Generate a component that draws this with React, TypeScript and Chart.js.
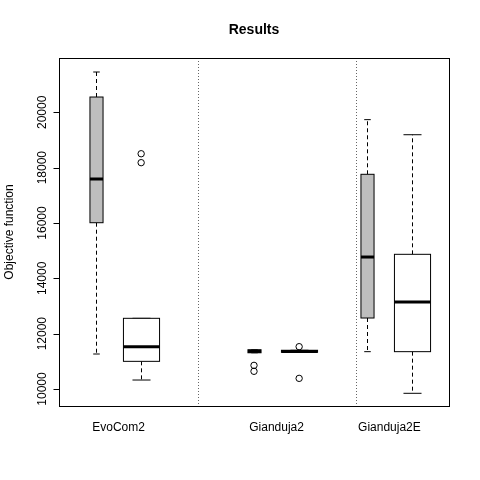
import React, { useEffect, useRef } from "react";
import { Chart, registerables } from "chart.js";

Chart.register(...registerables);

// box statistics, one entry per box
const positions = [1, 2, 4.5, 5.5, 7, 8];
const whiskerLow = [11265, 10325, 11310, 11330, 11350, 9845];
const q1 = [16010, 11000, 11310, 11330, 12566, 11350];
const medians = [17590, 11530, 11360, 11360, 14770, 13145];
const q3 = [20553, 12555, 11420, 11400, 17760, 14868];
const whiskerHigh = [21457, 12555, 11420, 11400, 19735, 19190];
const outliers = [
  { x: 2, y: 18503 },
  { x: 2, y: 18180 },
  { x: 4.5, y: 10855 },
  { x: 4.5, y: 10640 },
  { x: 5.5, y: 11530 },
  { x: 5.5, y: 10385 },
];
const groupLabels = ["EvoCom2", "Gianduja2", "Gianduja2E"];
const groupCenters = [1.5, 5, 7.5];
const dividers = [3.25, 6.75];
const yTicks = [10000, 12000, 14000, 16000, 18000, 20000];

// styles
const boxWidths = [0.29, 0.8, 0.29, 0.8, 0.29, 0.8];
const boxFills = ["#bebebe", "#ffffff", "#bebebe", "#ffffff", "#bebebe", "#ffffff"];
const FONT = '"Liberation Sans", Arial, sans-serif';

const rBoxPlot = {
  id: "rBoxPlot",
  beforeDatasetsDraw(chart: any) {
    const { ctx, chartArea: a, scales } = chart;
    const x = scales.x;
    const y = scales.y;
    ctx.save();
    // dividers
    ctx.strokeStyle = "#666";
    ctx.lineWidth = 1;
    ctx.setLineDash([1, 2]);
    dividers.forEach((d) => {
      const px = Math.round(x.getPixelForValue(d)) + 0.5;
      ctx.beginPath();
      ctx.moveTo(px, a.top);
      ctx.lineTo(px, a.bottom);
      ctx.stroke();
    });
    positions.forEach((p, i) => {
      const cx = Math.round(x.getPixelForValue(p)) + 0.5;
      const hw = x.getPixelForValue(p + boxWidths[i] / 2) - x.getPixelForValue(p);
      const yq1 = y.getPixelForValue(q1[i]);
      const yq3 = y.getPixelForValue(q3[i]);
      const ylo = y.getPixelForValue(whiskerLow[i]);
      const yhi = y.getPixelForValue(whiskerHigh[i]);
      const ym = y.getPixelForValue(medians[i]);
      ctx.strokeStyle = "#000";
      ctx.lineWidth = 1;
      // whiskers
      ctx.setLineDash([4, 3]);
      ctx.beginPath();
      ctx.moveTo(cx, yq3);
      ctx.lineTo(cx, yhi);
      ctx.moveTo(cx, yq1);
      ctx.lineTo(cx, ylo);
      ctx.stroke();
      ctx.setLineDash([]);
      ctx.beginPath();
      ctx.moveTo(cx - hw / 2, yhi);
      ctx.lineTo(cx + hw / 2, yhi);
      ctx.moveTo(cx - hw / 2, ylo);
      ctx.lineTo(cx + hw / 2, ylo);
      ctx.stroke();
      // box
      ctx.fillStyle = boxFills[i];
      ctx.fillRect(cx - hw, yq3, hw * 2, yq1 - yq3);
      ctx.strokeRect(cx - hw, yq3, hw * 2, yq1 - yq3);
      // median
      ctx.lineWidth = 3;
      ctx.beginPath();
      ctx.moveTo(cx - hw, ym);
      ctx.lineTo(cx + hw, ym);
      ctx.stroke();
    });
    ctx.restore();
  },
  afterDraw(chart: any) {
    const { ctx, chartArea: a, scales } = chart;
    const x = scales.x;
    const y = scales.y;
    ctx.save();
    ctx.strokeStyle = "#000";
    ctx.lineWidth = 1;
    ctx.setLineDash([]);
    ctx.strokeRect(Math.round(a.left) + 0.5, Math.round(a.top) + 0.5, Math.round(a.right - a.left), Math.round(a.bottom - a.top));
    // y axis ticks
    const ax = Math.round(a.left) + 0.5;
    ctx.beginPath();
    ctx.moveTo(ax, y.getPixelForValue(yTicks[0]));
    ctx.lineTo(ax, y.getPixelForValue(yTicks[yTicks.length - 1]));
    yTicks.forEach((t) => {
      const py = Math.round(y.getPixelForValue(t)) + 0.5;
      ctx.moveTo(ax, py);
      ctx.lineTo(ax - 6, py);
    });
    ctx.stroke();
    ctx.fillStyle = "#000";
    ctx.font = `12px ${FONT}`;
    ctx.textAlign = "center";
    ctx.textBaseline = "bottom";
    yTicks.forEach((t) => {
      const py = y.getPixelForValue(t);
      ctx.save();
      ctx.translate(ax - 11, py);
      ctx.rotate(-Math.PI / 2);
      ctx.fillText(String(t), 0, 0);
      ctx.restore();
    });
    // group labels
    ctx.textBaseline = "middle";
    groupLabels.forEach((l, i) => {
      ctx.fillText(l, x.getPixelForValue(groupCenters[i]), 428);
    });
    // axis title
    ctx.save();
    ctx.translate(10, (a.top + a.bottom) / 2);
    ctx.rotate(-Math.PI / 2);
    ctx.fillText("Objective function", 0, 0);
    ctx.restore();
    // main title
    ctx.font = `bold 14px ${FONT}`;
    ctx.fillText("Results", (a.left + a.right) / 2, 30);
    ctx.restore();
  },
};

export default function App() {
  const canvasRef = useRef<HTMLCanvasElement>(null);

  useEffect(() => {
    document.body.style.margin = "0";
    if (!canvasRef.current) return;
    const chart = new Chart(canvasRef.current, {
      type: "scatter",
      data: {
        datasets: [
          {
            data: outliers,
            pointStyle: "circle",
            pointRadius: 3.2,
            borderColor: "#000",
            borderWidth: 1,
            backgroundColor: "rgba(0,0,0,0)",
          },
        ],
      },
      options: {
        animation: false,
        responsive: false,
        layout: { padding: { left: 59, right: 31, top: 58, bottom: 74 } },
        scales: {
          x: { type: "linear", min: 0.18, max: 8.82, display: false },
          y: { type: "linear", min: 9386, max: 21963, display: false },
        },
        plugins: { legend: { display: false }, tooltip: { enabled: false } },
      },
      plugins: [rBoxPlot],
    });
    return () => chart.destroy();
  }, []);

  return (
    <div style={{ width: 480, height: 480, background: "#fff" }}>
      <canvas ref={canvasRef} width={480} height={480} />
    </div>
  );
}
